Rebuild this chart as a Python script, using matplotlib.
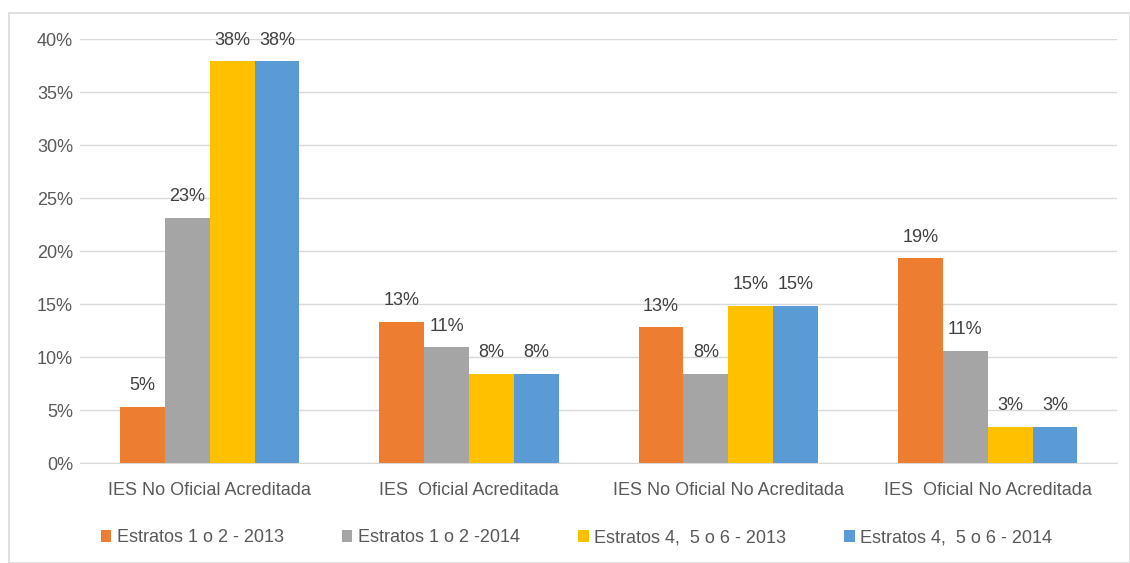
import numpy as np
import matplotlib
matplotlib.use('Agg')
import matplotlib.pyplot as plt
from matplotlib.patches import Rectangle

# Data
categories = ['IES No Oficial Acreditada', 'IES  Oficial Acreditada',
              'IES No Oficial No Acreditada', 'IES  Oficial No Acreditada']
series_names = ['Estratos 1 o 2 - 2013', 'Estratos 1 o 2 -2014',
                'Estratos 4,  5 o 6 - 2013', 'Estratos 4,  5 o 6 - 2014']
estratos12_2013 = [0.053, 0.133, 0.128, 0.193]
estratos12_2014 = [0.231, 0.109, 0.084, 0.106]
estratos456_2013 = [0.379, 0.084, 0.148, 0.034]
estratos456_2014 = [0.379, 0.084, 0.148, 0.034]
colors = ['#ED7D31', '#A5A5A5', '#FFC000', '#5B9BD5']

plt.rcParams['font.family'] = ['Liberation Sans', 'DejaVu Sans']
text_color = '#595959'

fig = plt.figure(figsize=(11.3, 5.63), dpi=100)
ax = fig.add_axes([0.0708, 0.1776, 0.918, 0.753])

# light frame around the chart area
fig.patches.append(Rectangle((9 / 1130, 0), 1 - 9 / 1130, 1 - 13 / 563,
                             transform=fig.transFigure, fill=False,
                             edgecolor='#D9D9D9', linewidth=1.2))

series = [estratos12_2013, estratos12_2014, estratos456_2013, estratos456_2014]
x = np.arange(len(categories))
width = 0.173
for i, (vals, name, c) in enumerate(zip(series, series_names, colors)):
    pos = x + (i - 1.5) * width
    bars = ax.bar(pos, vals, width, color=c, label=name, zorder=3)
    for b, v in zip(bars, vals):
        ax.text(b.get_x() + b.get_width() / 2, v + 0.012, f'{round(v * 100):.0f}%',
                ha='center', va='bottom', fontsize=13, color='#404040')

ax.set_xlim(-0.5, 3.5)
ax.set_ylim(0, 0.40)
ax.set_yticks(np.arange(0, 0.41, 0.05))
ax.set_yticklabels([f'{int(round(t * 100))}%' for t in np.arange(0, 0.41, 0.05)])
ax.set_xticks(x)
ax.set_xticklabels(categories)
ax.tick_params(axis='both', length=0, labelsize=13, labelcolor=text_color)
ax.tick_params(axis='x', pad=14)
ax.tick_params(axis='y', pad=5)
ax.grid(axis='y', color='#D9D9D9', linewidth=1, zorder=0)
for s in ['top', 'right', 'left']:
    ax.spines[s].set_visible(False)
ax.spines['bottom'].set_color('#D9D9D9')

leg = fig.legend(loc='center', bbox_to_anchor=(0.51, 0.045), ncol=4, frameon=False,
                 fontsize=13, handlelength=0.6, handleheight=0.6, handletextpad=0.3,
                 columnspacing=3.2)
for t in leg.get_texts():
    t.set_color(text_color)

fig.savefig('out.png', dpi=100)
